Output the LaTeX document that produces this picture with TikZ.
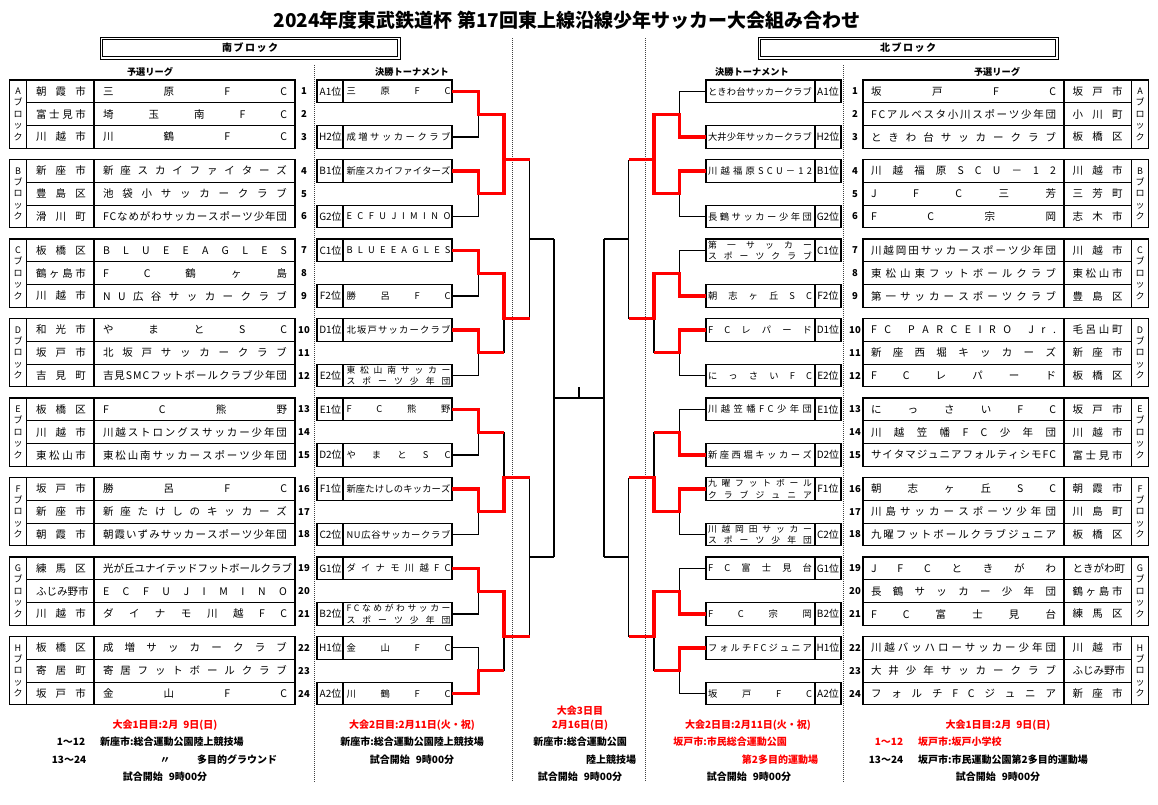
\documentclass[tikz,border=0pt]{standalone}
\usepackage{fontspec}
\setmainfont{Noto Sans CJK JP}
\definecolor{rd}{RGB}{255,0,0}
\ExplSyntaxOn
\NewDocumentCommand\dist{mm}{\makebox[#1][s]{\tl_map_inline:nn{#2}{##1\hfill}\unskip}}
\ExplSyntaxOff
\tikzset{
 tbl/.style={line width=1.1pt},
 bk/.style={line width=1.1pt},
 rdl/.style={line width=3.3pt,draw=rd,line join=miter},
 dots/.style={line width=1pt,dash pattern=on 1pt off 1pt,draw=black!75},
 nm/.style={inner sep=0pt,font=\fontsize{10.5}{12}\selectfont},
 ct/.style={inner sep=0pt,font=\fontsize{10.5}{12}\selectfont},
 num/.style={inner sep=0pt,font=\bfseries\fontsize{9.5}{11}\selectfont},
 blk/.style={inner sep=0pt,align=center,font=\fontsize{9}{11.4}\selectfont},
 tn/.style={inner sep=0pt,font=\fontsize{9.3}{11}\selectfont},
 tntwo/.style={inner sep=0pt,font=\fontsize{8.8}{11}\selectfont},
 lab/.style={inner sep=0pt,font=\fontsize{10}{11}\selectfont},
 hd/.style={inner sep=0pt,font=\bfseries\fontsize{9.2}{11}\selectfont},
 bt/.style={inner sep=0pt,font=\bfseries\fontsize{10}{12}\selectfont},
 rbt/.style={bt,text=rd},
 ttl/.style={inner sep=0pt,font=\bfseries\fontsize{19}{22}\selectfont},
}
\newcommand\southblock[2]{%
 \pgfmathsetmacro\myT{80+79.5*#1}%
 \draw[tbl] (9.5,\myT) rectangle (295,\myT+68.4);
 \draw[tbl] (26.5,\myT) -- (26.5,\myT+68.4) (94,\myT) -- (94,\myT+68.4) (26.5,\myT+22.8) -- (295,\myT+22.8) (26.5,\myT+45.6) -- (295,\myT+45.6);
 \node[blk] (sblk#2) at (18,\myT+34.2) {#2\\ブ\\ロ\\ッ\\ク};
}
\newcommand\northblock[2]{%
 \pgfmathsetmacro\myT{80+79.5*#1}%
 \draw[tbl] (863,\myT) rectangle (1148.5,\myT+68.4);
 \draw[tbl] (1131.5,\myT) -- (1131.5,\myT+68.4) (1064,\myT) -- (1064,\myT+68.4) (863,\myT+22.8) -- (1131.5,\myT+22.8) (863,\myT+45.6) -- (1131.5,\myT+45.6);
 \node[blk] (nblk#2) at (1140,\myT+34.2) {#2\\ブ\\ロ\\ッ\\ク};
}
\newcommand\southrow[5]{%
 \pgfmathsetmacro\myY{80+79.5*#1+11.4+22.8*#2}%
 \node[ct] (sc#3) at (61,\myY) {\dist{50pt}{#4}};
 \node[nm] (st#3) at (195,\myY) {\dist{184pt}{#5}};
 \node[num] (sn#3) at (304,\myY) {#3};
}
\newcommand\northrow[5]{%
 \pgfmathsetmacro\myY{80+79.5*#1+11.4+22.8*#2}%
 \node[nm] (nt#3) at (963.5,\myY) {\dist{185pt}{#4}};
 \node[ct] (nc#3) at (1097.5,\myY) {\dist{50pt}{#5}};
 \node[num] (nn#3) at (855,\myY) {#3};
}
\newcommand\sentry[4]{%
 \pgfmathsetmacro\myY{80+79.5*#1+22.8*#2}%
 \draw[tbl] (317,\myY) rectangle (452,\myY+22.8) (343,\myY) -- (343,\myY+22.8);
 \node[lab] (sl#1#2) at (330.5,\myY+11.4) {#3};
 \node[tn] (sx#1#2) at (398.5,\myY+11.4) {\dist{104pt}{#4}};
}
\newcommand\sentrytwo[5]{%
 \pgfmathsetmacro\myY{80+79.5*#1+22.8*#2}%
 \draw[tbl] (317,\myY) rectangle (452,\myY+22.8) (343,\myY) -- (343,\myY+22.8);
 \node[lab] (sl#1#2) at (330.5,\myY+11.4) {#3};
 \node[tntwo] (sx#1#2) at (398.5,\myY+5.8) {\dist{104pt}{#4}};
 \node[tntwo] (sy#1#2) at (398.5,\myY+17.2) {\dist{104pt}{#5}};
}
\newcommand\nentry[4]{%
 \pgfmathsetmacro\myY{80+79.5*#1+22.8*#2}%
 \draw[tbl] (706,\myY) rectangle (841,\myY+22.8) (815,\myY) -- (815,\myY+22.8);
 \node[lab] (nl#1#2) at (828,\myY+11.4) {#3};
 \node[tn] (nx#1#2) at (760,\myY+11.4) {\dist{104pt}{#4}};
}
\newcommand\nentrytwo[5]{%
 \pgfmathsetmacro\myY{80+79.5*#1+22.8*#2}%
 \draw[tbl] (706,\myY) rectangle (841,\myY+22.8) (815,\myY) -- (815,\myY+22.8);
 \node[lab] (nl#1#2) at (828,\myY+11.4) {#3};
 \node[tntwo] (nx#1#2) at (760,\myY+5.8) {\dist{104pt}{#4}};
 \node[tntwo] (ny#1#2) at (760,\myY+17.2) {\dist{104pt}{#5}};
}
\newcommand\redS[2]{\pgfmathsetmacro\myT{80+79.5*#1}%
 \draw[rdl] (452,\myT+#2) -- (478.5,\myT+#2) -- (478.5,\myT+34.2) -- (504,\myT+34.2);}
\newcommand\redN[2]{\pgfmathsetmacro\myT{80+79.5*#1}%
 \draw[rdl] (706,\myT+#2) -- (679.5,\myT+#2) -- (679.5,\myT+34.2) -- (654,\myT+34.2);}
\newcommand\redSS[2]{\pgfmathsetmacro\myA{80+79.5*#1+34.2}\pgfmathsetmacro\myM{80+79.5*#2}%
 \draw[rdl] (478.5,\myA) -- (504,\myA) -- (504,\myM) -- (529.5,\myM);}
\newcommand\redNN[2]{\pgfmathsetmacro\myA{80+79.5*#1+34.2}\pgfmathsetmacro\myM{80+79.5*#2}%
 \draw[rdl] (679.5,\myA) -- (654,\myA) -- (654,\myM) -- (628.5,\myM);}
\begin{document}
\begin{tikzpicture}[x=1pt,y=-1pt]
\fill[white] (0,0) rectangle (1158,804);
\useasboundingbox (0,0) rectangle (1158,804);
\node[ttl] (title) at (567,20) {2024年度東武鉄道杯 第17回東上線沿線少年サッカー大会組み合わせ};
% headers
\draw[line width=0.9pt] (100,37) rectangle (400,59);
\draw[line width=0.9pt] (102.5,39.5) rectangle (397.5,56.5);
\node[hd,font=\bfseries\fontsize{10}{12}\selectfont] (southhd) at (250,48) {\dist{56pt}{南ブロック}};
\draw[line width=0.9pt] (758,37) rectangle (1058,59);
\draw[line width=0.9pt] (760.5,39.5) rectangle (1055.5,56.5);
\node[hd,font=\bfseries\fontsize{10}{12}\selectfont] (northhd) at (908,48) {\dist{56pt}{北ブロック}};
\node[hd] (syl) at (150,72) {予選リーグ};
\node[hd] (stl) at (412,72) {決勝トーナメント};
\node[hd] (ntl) at (752,72) {決勝トーナメント};
\node[hd] (nyl) at (997,72) {予選リーグ};
% dotted separators
\draw[dots] (314.5,65) -- (314.5,782);
\draw[dots] (512.5,38) -- (512.5,782);
\draw[dots] (645.5,38) -- (645.5,782);
\draw[dots] (843.5,65) -- (843.5,782);
% south league tables
\southblock{0}{A}\southblock{1}{B}\southblock{2}{C}\southblock{3}{D}
\southblock{4}{E}\southblock{5}{F}\southblock{6}{G}\southblock{7}{H}
\southrow{0}{0}{1}{朝霞市}{三原FC}
\southrow{0}{1}{2}{富士見市}{埼玉南FC}
\southrow{0}{2}{3}{川越市}{川鶴FC}
\southrow{1}{0}{4}{新座市}{新座スカイファイターズ}
\southrow{1}{1}{5}{豊島区}{池袋小サッカークラブ}
\southrow{1}{2}{6}{滑川町}{FCなめがわサッカースポーツ少年団}
\southrow{2}{0}{7}{板橋区}{BLUEEAGLES}
\southrow{2}{1}{8}{鶴ヶ島市}{FC鶴ヶ島}
\southrow{2}{2}{9}{川越市}{NU広谷サッカークラブ}
\southrow{3}{0}{10}{和光市}{やまとSC}
\southrow{3}{1}{11}{坂戸市}{北坂戸サッカークラブ}
\southrow{3}{2}{12}{吉見町}{吉見SMCフットボールクラブ少年団}
\southrow{4}{0}{13}{板橋区}{FC熊野}
\southrow{4}{1}{14}{川越市}{川越ストロングスサッカー少年団}
\southrow{4}{2}{15}{東松山市}{東松山南サッカースポーツ少年団}
\southrow{5}{0}{16}{坂戸市}{勝呂FC}
\southrow{5}{1}{17}{新座市}{新座たけしのキッカーズ}
\southrow{5}{2}{18}{朝霞市}{朝霞いずみサッカースポーツ少年団}
\southrow{6}{0}{19}{練馬区}{光が丘ユナイテッドフットボールクラブ}
\southrow{6}{1}{20}{ふじみ野市}{ECFUJIMINO}
\southrow{6}{2}{21}{川越市}{ダイナモ川越FC}
\southrow{7}{0}{22}{板橋区}{成増サッカークラブ}
\southrow{7}{1}{23}{寄居町}{寄居フットボールクラブ}
\southrow{7}{2}{24}{坂戸市}{金山FC}
% north league tables
\northblock{0}{A}\northblock{1}{B}\northblock{2}{C}\northblock{3}{D}
\northblock{4}{E}\northblock{5}{F}\northblock{6}{G}\northblock{7}{H}
\northrow{0}{0}{1}{坂戸FC}{坂戸市}
\northrow{0}{1}{2}{FCアルベスタ小川スポーツ少年団}{小川町}
\northrow{0}{2}{3}{ときわ台サッカークラブ}{板橋区}
\northrow{1}{0}{4}{川越福原SCU－12}{川越市}
\northrow{1}{1}{5}{JFC三芳}{三芳町}
\northrow{1}{2}{6}{FC宗岡}{志木市}
\northrow{2}{0}{7}{川越岡田サッカースポーツ少年団}{川越市}
\northrow{2}{1}{8}{東松山東フットボールクラブ}{東松山市}
\northrow{2}{2}{9}{第一サッカースポーツクラブ}{豊島区}
\northrow{3}{0}{10}{FC{\hspace{0.2em}}PARCEIRO{\hspace{0.2em}}Jr.}{毛呂山町}
\northrow{3}{1}{11}{新座西堀キッカーズ}{新座市}
\northrow{3}{2}{12}{FCレパード}{板橋区}
\northrow{4}{0}{13}{にっさいFC}{坂戸市}
\northrow{4}{1}{14}{川越笠幡FC少年団}{川越市}
\northrow{4}{2}{15}{サイタマジュニアフォルティシモFC}{富士見市}
\northrow{5}{0}{16}{朝志ヶ丘SC}{朝霞市}
\northrow{5}{1}{17}{川島サッカースポーツ少年団}{川島町}
\northrow{5}{2}{18}{九曜フットボールクラブジュニア}{板橋区}
\northrow{6}{0}{19}{JFCときがわ}{ときがわ町}
\northrow{6}{1}{20}{長鶴サッカー少年団}{鶴ヶ島市}
\northrow{6}{2}{21}{FC富士見台}{練馬区}
\northrow{7}{0}{22}{川越バッハローサッカー少年団}{川越市}
\northrow{7}{1}{23}{大井少年サッカークラブ}{ふじみ野市}
\northrow{7}{2}{24}{フォルチFCジュニア}{新座市}
% south tournament boxes
\sentry{0}{0}{A1位}{三原FC}
\sentry{0}{2}{H2位}{成増サッカークラブ}
\sentry{1}{0}{B1位}{新座スカイファイターズ}
\sentry{1}{2}{G2位}{ECFUJIMINO}
\sentry{2}{0}{C1位}{BLUEEAGLES}
\sentry{2}{2}{F2位}{勝呂FC}
\sentry{3}{0}{D1位}{北坂戸サッカークラブ}
\sentrytwo{3}{2}{E2位}{東松山南サッカー}{スポーツ少年団}
\sentry{4}{0}{E1位}{FC熊野}
\sentry{4}{2}{D2位}{やまとSC}
\sentry{5}{0}{F1位}{新座たけしのキッカーズ}
\sentry{5}{2}{C2位}{NU広谷サッカークラブ}
\sentry{6}{0}{G1位}{ダイナモ川越FC}
\sentrytwo{6}{2}{B2位}{FCなめがわサッカー}{スポーツ少年団}
\sentry{7}{0}{H1位}{金山FC}
\sentry{7}{2}{A2位}{川鶴FC}
% north tournament boxes
\nentry{0}{0}{A1位}{ときわ台サッカークラブ}
\nentry{0}{2}{H2位}{大井少年サッカークラブ}
\nentry{1}{0}{B1位}{川越福原SCU－12}
\nentry{1}{2}{G2位}{長鶴サッカー少年団}
\nentrytwo{2}{0}{C1位}{第一サッカー}{スポーツクラブ}
\nentry{2}{2}{F2位}{朝志ヶ丘SC}
\nentry{3}{0}{D1位}{FCレパード}
\nentry{3}{2}{E2位}{にっさいFC}
\nentry{4}{0}{E1位}{川越笠幡FC少年団}
\nentry{4}{2}{D2位}{新座西堀キッカーズ}
\nentrytwo{5}{0}{F1位}{九曜フットボール}{クラブジュニア}
\nentrytwo{5}{2}{C2位}{川越岡田サッカー}{スポーツ少年団}
\nentry{6}{0}{G1位}{FC富士見台}
\nentry{6}{2}{B2位}{FC宗岡}
\nentry{7}{0}{H1位}{フォルチFCジュニア}
\nentry{7}{2}{A2位}{坂戸FC}
% bracket: black lines
\foreach \i in {0,...,7}{
 \pgfmathsetmacro\myT{80+79.5*\i}
 \draw[bk] (452,\myT+11.4) -- (478.5,\myT+11.4) -- (478.5,\myT+57) -- (452,\myT+57) (478.5,\myT+34.2) -- (504,\myT+34.2);
 \draw[bk] (706,\myT+11.4) -- (679.5,\myT+11.4) -- (679.5,\myT+57) -- (706,\myT+57) (679.5,\myT+34.2) -- (654,\myT+34.2);
}
\foreach \k in {0,...,3}{
 \pgfmathsetmacro\myU{80+159*\k+34.2}
 \pgfmathsetmacro\myL{80+159*\k+79.5+34.2}
 \pgfmathsetmacro\myM{80+159*\k+79.5}
 \draw[bk] (504,\myU) -- (504,\myL) (504,\myM) -- (529.5,\myM);
 \draw[bk] (654,\myU) -- (654,\myL) (654,\myM) -- (628.5,\myM);
}
\draw[bk] (529.5,159.5) -- (529.5,318.5) (529.5,239) -- (554,239);
\draw[bk] (529.5,477.5) -- (529.5,636.5) (529.5,557) -- (554,557);
\draw[bk] (628.5,159.5) -- (628.5,318.5) (628.5,239) -- (604,239);
\draw[bk] (628.5,477.5) -- (628.5,636.5) (628.5,557) -- (604,557);
\draw[bk] (554,239) -- (554,557) (604,239) -- (604,557) (554,398) -- (604,398) (579,398) -- (579,387);
% bracket: red winner lines
\redS{0}{11.4}\redS{1}{11.4}\redS{2}{11.4}\redS{3}{11.4}
\redS{4}{11.4}\redS{5}{11.4}\redS{6}{11.4}\redS{7}{57}
\redN{0}{57}\redN{1}{11.4}\redN{2}{57}\redN{3}{11.4}
\redN{4}{57}\redN{5}{11.4}\redN{6}{57}\redN{7}{11.4}
\redSS{0}{1}\redSS{1}{1}\redSS{2}{3}\redSS{5}{5}\redSS{6}{7}
\redNN{0}{1}\redNN{1}{1}\redNN{2}{3}\redNN{5}{5}\redNN{6}{7}
% bottom texts
\node[rbt] (b1) at (165,725) {大会1日目:2月\hspace{0.5em}9日(日)};
\node[bt] (b2) at (71,742) {1～12};
\node[bt,anchor=west] (b3) at (100,742) {新座市:総合運動公園陸上競技場};
\node[bt] (b4) at (69,760) {13～24};
\node[bt] (b5) at (165,760) {〃};
\node[bt] (b6) at (237,760) {多目的グラウンド};
\node[bt] (b7) at (165,777) {試合開始\hspace{0.6em}9時00分};
\node[rbt] (b8) at (412,725) {大会2日目:2月11日(火・祝)};
\node[bt] (b9) at (412,742) {新座市:総合運動公園陸上競技場};
\node[bt] (b10) at (412,760) {試合開始\hspace{0.6em}9時00分};
\node[rbt] (b11) at (580,711) {大会3日目};
\node[rbt] (b12) at (580,725) {2月16日(日)};
\node[bt] (b13) at (580,742) {新座市:総合運動公園};
\node[bt] (b14) at (611,760) {陸上競技場};
\node[bt] (b15) at (580,777) {試合開始\hspace{0.6em}9時00分};
\node[rbt] (b16) at (748,725) {大会2日目:2月11日(火・祝)};
\node[rbt] (b17) at (730,742) {坂戸市:市民総合運動公園};
\node[rbt] (b18) at (780,760) {第2多目的運動場};
\node[bt] (b19) at (749,777) {試合開始\hspace{0.6em}9時00分};
\node[rbt] (b20) at (998,725) {大会1日目:2月\hspace{0.5em}9日(日)};
\node[rbt] (b21) at (889,742) {1～12};
\node[rbt,anchor=west] (b22) at (918,742) {坂戸市:坂戸小学校};
\node[bt] (b23) at (886,760) {13～24};
\node[bt,anchor=west] (b24) at (918,760) {坂戸市:市民運動公園第2多目的運動場};
\node[bt] (b25) at (998,777) {試合開始\hspace{0.6em}9時00分};
\end{tikzpicture}
\end{document}
